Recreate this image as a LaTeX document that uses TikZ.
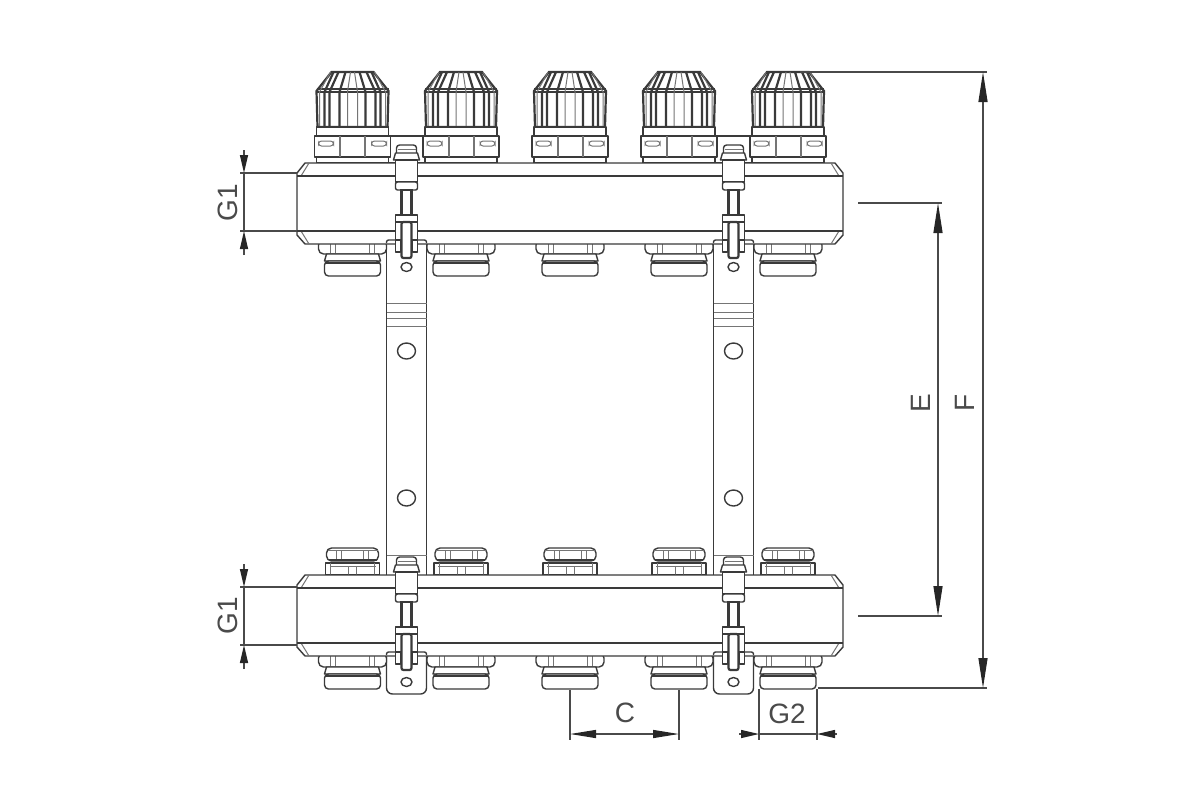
\documentclass[tikz,border=0pt]{standalone}
\usepackage{fontspec}
\setmainfont{Liberation Sans}
\usetikzlibrary{arrows.meta}
\definecolor{DarkLine}{HTML}{3A3A3A}
\definecolor{DimLine}{HTML}{4A4A4A}
\tikzset{
  partline/.style={draw=DarkLine,line width=0.7pt,line join=round},
  thinline/.style={draw=DarkLine!70,line width=0.5pt},
  heavyline/.style={draw=DarkLine,line width=1.1pt},
  dimline/.style={draw=DimLine,line width=0.65pt},
  longtip/.style={{Triangle[length=15pt,width=4.5pt,black!85]}-{Triangle[length=15pt,width=4.5pt,black!85]}},
  midtip/.style={{Triangle[length=13pt,width=4pt,black!85]}-{Triangle[length=13pt,width=4pt,black!85]}},
  endtip/.style={-{Triangle[length=9pt,width=4pt,black!85]}},
  dimtext/.style={font=\fontsize{14}{14}\selectfont,text=DimLine,inner sep=0pt},
  knob/.pic={
    \draw[heavyline,fill=white] (-35,127) -- (-36,91) -- (-21,72) -- (21,72) -- (36,91) -- (35,127) -- cycle;
    \draw[partline] (-36,89) -- (36,89);
    \draw[heavyline] (-36,92) -- (36,92);
    \foreach \a/\b in {13/7,23/14,28/19} {
      \draw[heavyline] (-\a,127) -- (-\a,92) -- (-\b,72);
      \draw[heavyline] (\a,127) -- (\a,92) -- (\b,72);
    }
    \foreach \a/\b in {5/2,33/22} {
      \draw[thinline] (-\a,127) -- (-\a,92) -- (-\b,72);
      \draw[thinline] (\a,127) -- (\a,92) -- (\b,72);
    }
    \draw[partline,fill=white] (-36,127) rectangle (36,136);
    \draw[partline,fill=white] (-38,136) rectangle (38,157);
    \draw[partline,fill=white] (-36,157) rectangle (36,163);
    \draw[thinline] (-13,136) -- (-13,157) (13,136) -- (13,157);
    \draw[thinline] (-12,136) -- (-12,157) (12,136) -- (12,157);
    \draw[thinline,rounded corners=1.5pt] (-34,141) rectangle (-19,146);
    \draw[thinline,rounded corners=1.5pt] (19,141) rectangle (34,146);
  },
  lowernut/.pic={
    \draw[partline,fill=white,rounded corners=2.5pt] (-34,-3) -- (-34,11) -- (34,11) -- (34,-3) -- cycle;
    \draw[thinline] (-22,0) -- (-22,11) (22,0) -- (22,11) (-17,0) -- (-17,11) (17,0) -- (17,11);
    \draw[partline,fill=white] (-26,11) -- (-28,18) -- (28,18) -- (26,11) -- cycle;
    \draw[partline,fill=white,rounded corners=2pt] (-28,18) rectangle (28,33);
    \draw[heavyline] (-27,20) -- (27,20);
  },
  uppernut/.pic={
    \draw[partline,fill=white,rounded corners=2.5pt] (-26,-27) rectangle (26,-14);
    \draw[thinline] (-16,-25) -- (-16,-15) (-11,-25) -- (-11,-15) (11,-25) -- (11,-15) (16,-25) -- (16,-15) (-25,-25) -- (25,-25);
    \draw[heavyline] (-24,-15) -- (24,-15);
    \draw[partline,fill=white] (-27,-12) rectangle (27,0);
    \draw[thinline] (-22,-12) -- (-22,0) (22,-12) -- (22,0);
    \draw[thinline] (-4,-9) -- (-4,0) (4,-9) -- (4,0) (-23,-9) -- (23,-9);
  },
  manifold/.pic={
    \draw[partline,fill=white] (305,0) -- (835,0) -- (843,10) -- (843,72) -- (835,81) -- (305,81) -- (297,72) -- (297,10) -- cycle;
    \draw[thinline] (309,0) -- (301,13) (301,68) -- (309,81) (831,0) -- (839,13) (839,68) -- (831,81);
    \draw[heavyline] (297,13) -- (843,13) (297,68) -- (843,68);
  },
  clamp/.pic={
    \draw[partline,fill=white,rounded corners=1.5pt] (-10,-10) -- (-10,-18) -- (10,-18) -- (10,-10);
    \draw[thinline] (-9,-14) -- (9,-14);
    \draw[partline,fill=white] (-11,-10) -- (-13,-3) -- (13,-3) -- (11,-10) -- cycle;
    \draw[partline,fill=white] (-11,-3) rectangle (11,19);
    \draw[partline,fill=white] (-8,19) arc (180:0:8 and 5) -- cycle;
    \draw[partline,fill=white,rounded corners=1pt] (-11,19) rectangle (11,27);
    \draw[heavyline,fill=white] (-5,27) rectangle (5,52);
    \draw[partline,fill=white] (-11,52) rectangle (11,59);
    \draw[partline,fill=white] (-11,59) rectangle (11,77);
    \draw[partline,rounded corners=1pt] (-20,80) -- (-20,77) -- (-11,77) (11,77) -- (20,77) -- (20,80);
    \draw[partline,fill=white] (-11,77) rectangle (-6,89);
    \draw[partline,fill=white] (6,77) rectangle (11,89);
    \draw[heavyline,fill=white,rounded corners=1pt] (-5,59) -- (-5,95) -- (5,95) -- (5,59) -- cycle;
  }
}

\begin{document}
\begin{tikzpicture}[x=0.5pt,y=-0.5pt]
  \useasboundingbox (0,0) rectangle (1200,800);

  % wall brackets
  \foreach \bx in {406.5,733.5} {
    \draw[partline] (\bx-19,136) rectangle (\bx+19,163);
    \draw[partline] (\bx-20,240) -- (\bx-20,575) (\bx+20,240) -- (\bx+20,575);
    \draw[partline,rounded corners=3pt] (\bx-20,650) -- (\bx-20,694) -- (\bx+20,694) -- (\bx+20,650);
    \draw[thinline] (\bx-20,303) -- (\bx+20,303) (\bx-20,312) -- (\bx+20,312);
    \draw[thinline] (\bx-20,318) -- (\bx+20,318) (\bx-20,326) -- (\bx+20,326);
    \draw[thinline] (\bx-20,555) -- (\bx+20,555);
    \draw[partline] (\bx,351) ellipse (9 and 8);
    \draw[partline] (\bx,498) ellipse (9 and 8);
  }

  % valves and nuts
  \foreach \vx in {352.5,461,570,679,788} {
    \pic at (\vx,0) {knob};
    \pic at (\vx,243) {lowernut};
    \pic at (\vx,575) {uppernut};
    \pic at (\vx,656) {lowernut};
  }

  \pic at (0,163) {manifold};
  \pic at (0,575) {manifold};

  \foreach \bx in {406.5,733.5} {
    \pic at (\bx,163) {clamp};
    \pic at (\bx,575) {clamp};
    \draw[partline,fill=white] (\bx,267) ellipse (5.5 and 4.5);
    \draw[partline,fill=white] (\bx,682) ellipse (5.5 and 4.5);
  }

  % dimensions
  \coordinate (g1a) at (244,173);
  \coordinate (g1b) at (244,231);
  \coordinate (g1c) at (244,587);
  \coordinate (g1d) at (244,645);
  \coordinate (ea) at (938,203);
  \coordinate (eb) at (938,616);
  \coordinate (fa) at (983,72);
  \coordinate (fb) at (983,688);
  \coordinate (ca) at (570,734);
  \coordinate (cb) at (679,734);
  \coordinate (g2a) at (759,734);
  \coordinate (g2b) at (817,734);

  \draw[dimline] (240,173) -- (297,173) (240,231) -- (297,231);
  \draw[dimline] (240,587) -- (297,587) (240,645) -- (297,645);
  \draw[dimline] (858,203) -- (942,203) (858,616) -- (942,616);
  \draw[dimline] (800,72) -- (987,72) (818,688) -- (987,688);
  \draw[dimline] (570,690) -- (570,740) (679,690) -- (679,740);
  \draw[dimline] (759,689) -- (759,740) (817,689) -- (817,740);

  \draw[dimline] (g1a) -- (g1b) (g1c) -- (g1d);
  \draw[dimline,endtip] (244,150) -- (g1a);
  \draw[dimline,endtip] (244,255) -- (g1b);
  \draw[dimline,endtip] (244,564) -- (g1c);
  \draw[dimline,endtip] (244,669) -- (g1d);
  \draw[dimline,longtip] (ea) -- (eb);
  \draw[dimline,longtip] (fa) -- (fb);
  \draw[dimline,midtip] (ca) -- (cb);
  \draw[dimline,endtip] (739,734) -- (g2a);
  \draw[dimline,endtip] (837,734) -- (g2b);
  \draw[dimline] (g2a) -- (g2b);

  \node[dimtext,rotate=90] (g1top) at (228,203) {G1};
  \node[dimtext,rotate=90] (g1low) at (228,616) {G1};
  \node[dimtext,rotate=90] (elabel) at (921,403) {E};
  \node[dimtext,rotate=90] (flabel) at (965,403) {F};
  \node[dimtext] (clabel) at (625,713) {C};
  \node[dimtext] (g2label) at (787,714) {G2};
\end{tikzpicture}
\end{document}
